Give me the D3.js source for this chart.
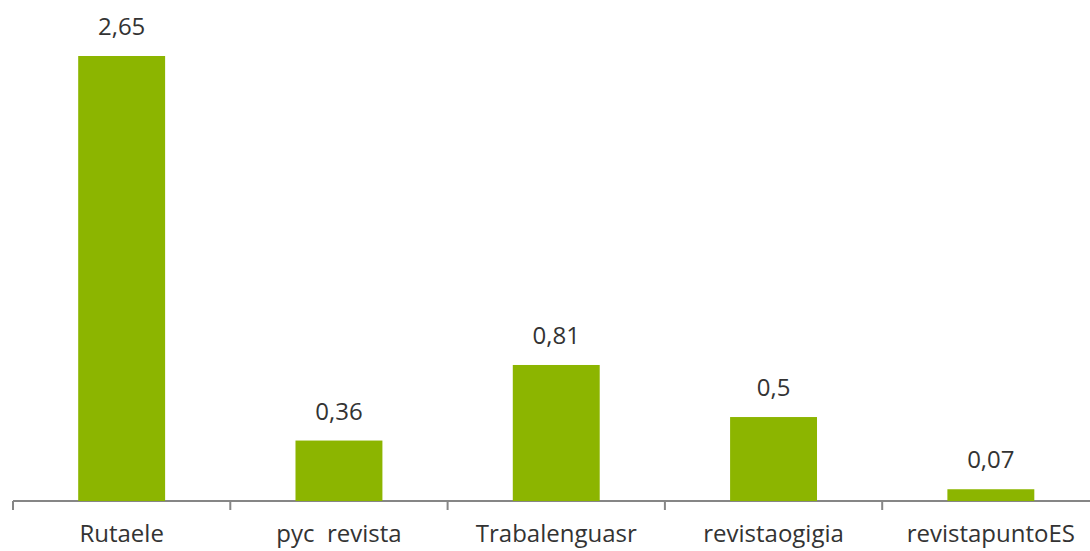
<!DOCTYPE html>
<html>
<head>
<meta charset="utf-8">
<script src="https://cdn.jsdelivr.net/npm/d3@7"></script>
<style>
  body { margin: 0; background: #fff; }
</style>
</head>
<body>
<svg id="chart"></svg>
<script>
var categories = ["Rutaele", "pyc  revista", "Trabalenguasr", "revistaogigia", "revistapuntoES"];
var values = [2.65, 0.36, 0.81, 0.5, 0.07];
var valueLabels = ["2,65", "0,36", "0,81", "0,5", "0,07"];

var width = 1090, height = 551;
var svg = d3.select("#chart")
    .attr("width", width)
    .attr("height", height)
    .style("display", "block");

var x = d3.scaleBand()
    .domain(categories)
    .range([13, 13 + 217.3 * categories.length])
    .padding(0);

var y = d3.scaleLinear()
    .domain([0, 2.65])
    .range([501, 56]);

var barW = x.bandwidth() * 0.4;

// axis line and ticks
svg.append("line")
    .attr("x1", x.range()[0]).attr("x2", width)
    .attr("y1", y(0)).attr("y2", y(0))
    .attr("stroke", "#868686").attr("stroke-width", 2);

var ticks = categories.map(function(d) { return x(d); });
svg.append("g").selectAll("line")
    .data(ticks)
    .enter()
    .append("line")
      .attr("x1", d => d).attr("x2", d => d)
      .attr("y1", y(0)).attr("y2", y(0) + 9)
      .attr("stroke", "#868686").attr("stroke-width", 2);

var bars = svg.append("g");
bars.selectAll("rect")
    .data(values)
    .enter()
    .append("rect")
      .attr("x", (d, i) => x(categories[i]) + (x.bandwidth() - barW) / 2)
      .attr("width", barW)
      .attr("y", d => y(d))
      .attr("height", d => y(0) - y(d))
      .style("fill", "#8cb500");

bars.selectAll("text")
    .data(values)
    .enter()
    .append("text")
      .attr("x", (d, i) => x(categories[i]) + x.bandwidth() / 2)
      .attr("y", d => y(d) - 21)
      .attr("text-anchor", "middle")
      .style("font-family", "'Open Sans', sans-serif")
      .style("font-size", "24px")
      .style("fill", "#333333")
      .text((d, i) => valueLabels[i]);

svg.append("g").selectAll("text")
    .data(categories)
    .enter()
    .append("text")
      .attr("x", d => x(d) + x.bandwidth() / 2)
      .attr("y", 542)
      .attr("text-anchor", "middle")
      .style("white-space", "pre")
      .style("font-family", "'Open Sans', sans-serif")
      .style("font-size", "24px")
      .style("fill", "#333333")
      .text(d => d);
</script>
</body>
</html>
